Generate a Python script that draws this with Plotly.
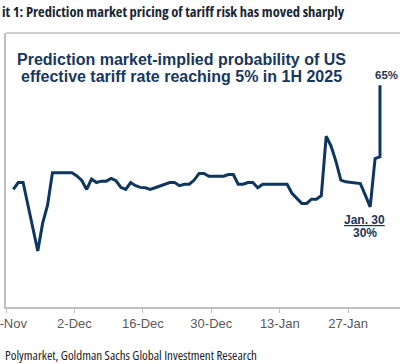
import pandas as pd
import plotly.graph_objects as go

# ---- data ----
dates = list(pd.date_range("2024-11-19", "2025-02-02", freq="D").strftime("%Y-%m-%d")) + ["2025-02-02"]
prob = [35.0, 37.0, 37.0, 30.4, 23.9, 17.3, 25.3, 30.5, 39.8, 39.8,
        39.8, 39.8, 39.8, 38.9, 37.6, 35.0, 38.0, 37.0, 37.4, 37.4,
        38.2, 37.5, 35.6, 35.0, 37.0, 36.1, 35.6, 35.5, 35.0, 35.5,
        36.0, 36.4, 37.0, 37.0, 36.1, 36.5, 36.5, 37.7, 39.6, 39.6,
        38.8, 38.8, 38.8, 38.8, 39.3, 39.3, 36.5, 36.5, 37.0, 37.0,
        35.5, 36.5, 36.5, 36.5, 36.5, 36.5, 36.5, 33.9, 32.4, 31.0,
        31.0, 32.2, 32.2, 33.2, 50.3, 47.5, 43.1, 37.7, 37.2, 37.0,
        37.0, 36.7, 33.4, 30.0, 43.9, 44.4, 65.0]
tick_dates = ["2024-11-18", "2024-12-02", "2024-12-16", "2024-12-30", "2025-01-13", "2025-01-27"]
tick_labels = ["18-Nov", "2-Dec", "16-Dec", "30-Dec", "13-Jan", "27-Jan"]
title = "it 1: Prediction market pricing of tariff risk has moved sharply"
inner_title = ["Prediction market-implied probability of US",
               "effective tariff rate reaching 5% in 1H 2025"]
source = "Polymarket, Goldman Sachs Global Investment Research"
low_label = ("Jan. 30", "30%")
high_label = "65%"

# points sit in the middle of each day slot (Excel-style date axis)
x = pd.to_datetime(pd.Series(dates)) + pd.Timedelta(hours=12)

NAVY = "#0d3660"
LABEL = "#1a3556"
GRAY = "#bfbfbf"

fig = go.Figure()
fig.add_trace(go.Scatter(x=x, y=prob, mode="lines",
                         line=dict(color=NAVY, width=3), hoverinfo="skip"))

W, H = 400, 364
ML, MT, MB, MR = 6, 33, 57, 0
pw, ph = W - ML - MR, H - MT - MB

def px(xp):
    return (xp - ML) / pw

def py(yp):
    return 1 - (yp - MT) / ph

fig.update_layout(
    width=W, height=H,
    margin=dict(l=ML, r=MR, t=MT, b=MB, autoexpand=False),
    paper_bgcolor="white", plot_bgcolor="white",
    showlegend=False,
    xaxis=dict(type="date", range=["2024-11-18", "2025-02-06 14:24"],
               tickvals=tick_dates, ticktext=tick_labels, automargin=False,
               ticks="outside", ticklen=4, tickcolor=GRAY, tickwidth=1,
               ticklabeloverflow="allow",
               showline=True, linecolor=GRAY, linewidth=1.5,
               showgrid=False, zeroline=False,
               tickfont=dict(family="Liberation Sans, Arial", size=13, color="#595959")),
    yaxis=dict(range=[1.2, 80], showticklabels=False, ticks="", automargin=False,
               showline=True, linecolor=GRAY, linewidth=1.5,
               showgrid=False, zeroline=False),
)

# top border of the chart frame
fig.add_shape(type="line", xref="paper", yref="paper", x0=0, x1=1, y0=1, y1=1,
              line=dict(color=GRAY, width=1.5))

# exhibit title (condensed face)
fig.add_annotation(text=f'<span style="font-stretch:75%">{title}</span>',
                   xref="paper", yref="paper", x=px(0), y=py(12),
                   xanchor="left", yanchor="middle", showarrow=False,
                   font=dict(family="Open Sans", size=14.5, color="#1b2635", weight="bold"))

# inner title
for txt, yc in zip(inner_title, [59, 76.7]):
    fig.add_annotation(text=txt, xref="paper", yref="paper", x=px(181.5), y=py(yc),
                       xanchor="center", yanchor="middle", showarrow=False,
                       font=dict(family="Liberation Sans, Arial", size=16,
                                 color="#17375e", weight="bold"))

# source
fig.add_annotation(text=f'<span style="font-stretch:75%">{source}</span>',
                   xref="paper", yref="paper", x=px(3), y=py(355),
                   xanchor="left", yanchor="middle", showarrow=False,
                   font=dict(family="Open Sans", size=13, color="#222222"))

# point labels
i_hi = len(prob) - 1
fig.add_annotation(text=high_label, x=x.iloc[i_hi], y=prob[i_hi], xanchor="left",
                   yanchor="middle", xshift=-7, yshift=10, showarrow=False,
                   font=dict(family="Liberation Sans, Arial", size=11.5, color=LABEL, weight="bold"))
i_lo = 60 + prob[60:].index(min(prob[60:]))
for txt, dy in [(f"<u>{low_label[0]}</u>", -13.3), (low_label[1], -26.6)]:
    fig.add_annotation(text=txt, x=x.iloc[i_lo], y=prob[i_lo], xanchor="center",
                       yanchor="middle", xshift=-5.5, yshift=dy, showarrow=False,
                       font=dict(family="Liberation Sans, Arial", size=12,
                                 color=LABEL, weight="bold"))

fig.write_html("out.html", config={"displayModeBar": False},
               post_script="document.body.style.margin='0';")
